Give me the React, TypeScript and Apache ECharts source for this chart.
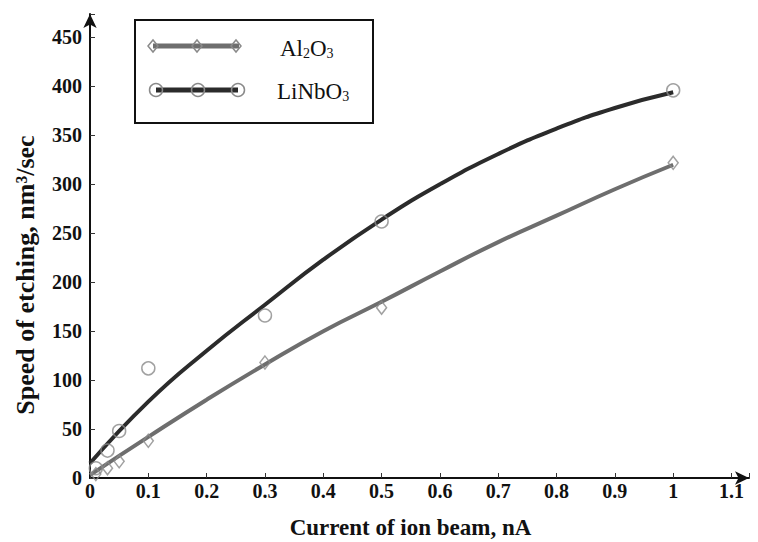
import React, { useEffect, useRef } from "react";
import * as echarts from "echarts";

const measuredCurrent = [0.01, 0.03, 0.05, 0.1, 0.3, 0.5, 1.0];
const measuredLiNbO3 = [10, 28, 48, 112, 166, 262, 396];
const measuredAl2O3 = [4, 10, 17, 38, 118, 174, 322];

const trendCurrent = [0, 0.1, 0.2, 0.3, 0.4, 0.5, 0.6, 0.7, 0.8, 0.9, 1.0];
const trendLiNbO3 = [15, 78, 130, 177, 223, 264, 300, 331, 357, 378, 394];
const trendAl2O3 = [3, 42, 80, 116, 150, 180, 211, 241, 268, 295, 320];

const FONT = "'Liberation Serif', 'Times New Roman', serif";
const DARK = "#2b2b2b";
const GRAY = "#6e6e6e";
const MARK = "#8a8a8a";

function pairs(xs: number[], ys: number[]) {
  return xs.map((x, i) => [x, ys[i]]);
}

export default function App() {
  const ref = useRef<HTMLDivElement>(null);
  useEffect(() => {
    document.body.style.margin = "0";
    if (!ref.current) return;
    const chart = echarts.init(ref.current, null, { renderer: "svg" });
    const legendX = 134;
    const legendY = 19;
    const rich = {
      m: { fontFamily: FONT, fontSize: 23, fill: "#111", verticalAlign: "bottom", lineHeight: 26 },
      s: { fontFamily: FONT, fontSize: 14, fill: "#111", verticalAlign: "bottom", lineHeight: 22 },
    };
    chart.setOption({
      animation: false,
      backgroundColor: "#ffffff",
      grid: {
        left: 90,
        right: 9,
        top: 14,
        bottom: 64,
        containLabel: false,
        outerBoundsMode: "none",
      },
      xAxis: {
        type: "value",
        min: 0,
        max: 1.13,
        interval: 0.1,
        name: "Current of ion beam, nA",
        nameLocation: "middle",
        nameGap: 38,
        nameTextStyle: {
          fontFamily: FONT,
          fontWeight: "bold",
          fontSize: 23,
          color: "#111",
          padding: [0, 18, 0, 0],
        },
        axisLine: {
          lineStyle: { color: "#111", width: 2 },
          symbol: ["none", "arrow"],
          symbolSize: [10, 14],
        },
        axisTick: { inside: true, length: 5, lineStyle: { color: "#333", width: 1 } },
        splitLine: { show: false },
        axisLabel: {
          margin: 3,
          fontFamily: FONT,
          fontWeight: "bold",
          fontSize: 20,
          color: "#111",
          formatter: (v: number) => (v > 1.101 ? "" : String(Math.round(v * 10) / 10)),
        },
      },
      yAxis: {
        type: "value",
        min: 0,
        max: 474,
        interval: 50,
        name: "Speed of etching, nm³/sec",
        nameLocation: "middle",
        nameGap: 52,
        nameTextStyle: {
          fontFamily: FONT,
          fontWeight: "bold",
          fontSize: 26,
          color: "#111",
          padding: [0, 58, 0, 0],
        },
        axisLine: {
          show: true,
          lineStyle: { color: "#111", width: 2 },
          symbol: ["none", "arrow"],
          symbolSize: [10, 14],
        },
        axisTick: { show: true, inside: true, length: 5, lineStyle: { color: "#333", width: 1 } },
        splitLine: { show: false },
        axisLabel: {
          margin: 8,
          fontFamily: FONT,
          fontWeight: "bold",
          fontSize: 20,
          color: "#111",
          formatter: (v: number) => (v % 50 === 0 ? String(v) : ""),
        },
      },
      series: [
        {
          name: "Al2O3 trend",
          type: "line",
          smooth: true,
          showSymbol: false,
          data: pairs(trendCurrent, trendAl2O3),
          lineStyle: { color: GRAY, width: 4 },
          z: 2,
        },
        {
          name: "LiNbO3 trend",
          type: "line",
          smooth: true,
          showSymbol: false,
          data: pairs(trendCurrent, trendLiNbO3),
          lineStyle: { color: DARK, width: 4 },
          z: 2,
        },
        {
          name: "Al2O3",
          type: "scatter",
          symbol: "diamond",
          symbolSize: [10, 13],
          data: pairs(measuredCurrent, measuredAl2O3),
          itemStyle: { color: "transparent", borderColor: MARK, borderWidth: 1.5 },
          z: 3,
        },
        {
          name: "LiNbO3",
          type: "scatter",
          symbol: "circle",
          symbolSize: 13,
          data: pairs(measuredCurrent, measuredLiNbO3),
          itemStyle: { color: "transparent", borderColor: MARK, borderWidth: 1.5 },
          z: 3,
        },
      ],
      graphic: [
        {
          type: "group",
          left: legendX,
          top: legendY,
          children: [
            {
              type: "rect",
              shape: { x: 0, y: 0, width: 238, height: 103 },
              style: { fill: "#fff", stroke: "#111", lineWidth: 2 },
            },
            {
              type: "line",
              shape: { x1: 18, y1: 26, x2: 104, y2: 26 },
              style: { stroke: GRAY, lineWidth: 5 },
            },
            ...[18, 62, 101].map((cx) => ({
              type: "polygon",
              shape: { points: [[cx - 5, 26], [cx, 20], [cx + 5, 26], [cx, 32]] },
              style: { fill: "none", stroke: MARK, lineWidth: 1.5 },
            })),
            {
              type: "line",
              shape: { x1: 21, y1: 70, x2: 103, y2: 70 },
              style: { stroke: DARK, lineWidth: 5 },
            },
            ...[21, 63, 103].map((cx) => ({
              type: "circle",
              shape: { cx, cy: 70, r: 6.5 },
              style: { fill: "none", stroke: MARK, lineWidth: 1.5 },
            })),
            {
              type: "text",
              x: 145,
              y: 27,
              style: { text: "{m|Al}{s|2}{m|O}{s|3}", verticalAlign: "middle", rich },
            },
            {
              type: "text",
              x: 142,
              y: 70,
              style: { text: "{m|LiNbO}{s|3}", verticalAlign: "middle", rich },
            },
          ],
        },
      ],
    });
    return () => chart.dispose();
  }, []);
  return <div ref={ref} style={{ width: 758, height: 542 }} />;
}
